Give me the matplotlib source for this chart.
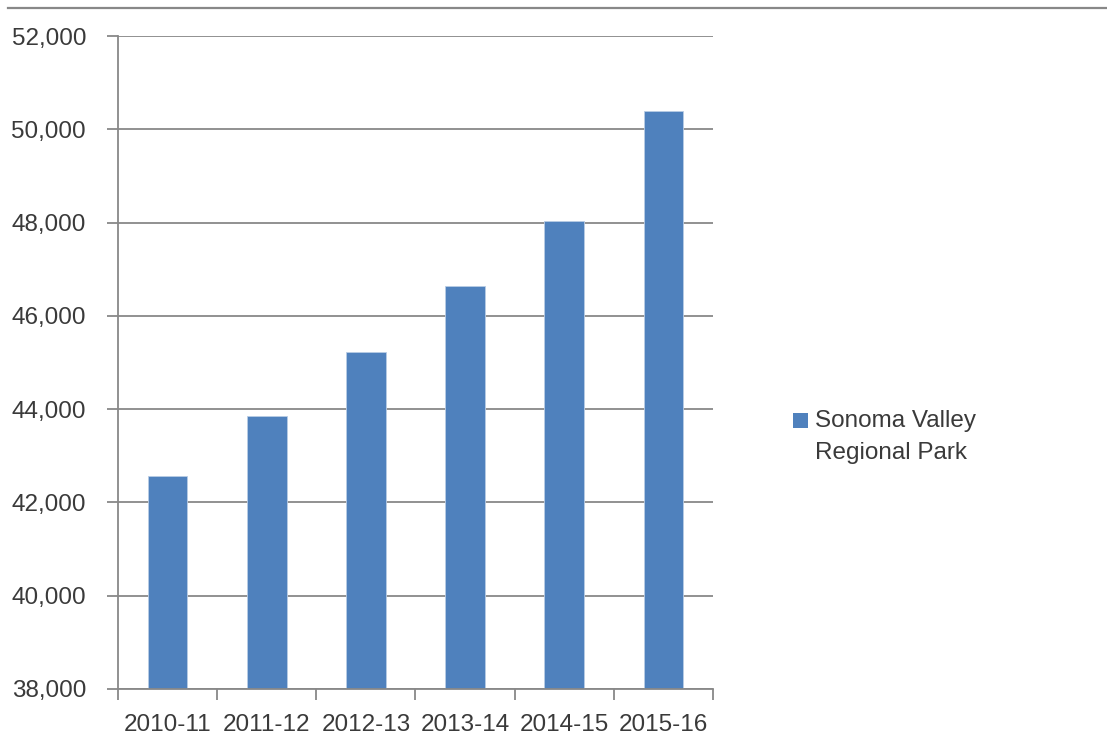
import matplotlib
matplotlib.use("Agg")
import matplotlib.pyplot as plt
from matplotlib.patches import Rectangle
from matplotlib.legend_handler import HandlerBase
from matplotlib.lines import Line2D
from matplotlib.ticker import FuncFormatter, FixedLocator

seasons = ["2010-11", "2011-12", "2012-13", "2013-14", "2014-15", "2015-16"]
visitors = [42570, 43850, 45230, 46630, 48040, 50400]
series_name = "Sonoma Valley\nRegional Park"
y_ticks = [38000, 40000, 42000, 44000, 46000, 48000, 50000, 52000]

BAR = "#4F81BD"
GRID = "#888888"
TEXT = "#3a3a3a"

plt.rcParams["font.family"] = ["Liberation Sans", "DejaVu Sans"]
FS = 17.5
LEG_LINESPACING = 1.6

fig = plt.figure(figsize=(11.07, 7.5), dpi=100)
ax = fig.add_axes([118 / 1107, 1 - 689 / 750, (713 - 118) / 1107, (689 - 36) / 750])

x = list(range(len(seasons)))
bars = ax.bar(x, visitors, width=0.4, color=BAR, edgecolor="#B9CDE5",
              linewidth=0.6, label=series_name, zorder=3)

ax.set_ylim(y_ticks[0], y_ticks[-1])
ax.set_xlim(-0.5, len(seasons) - 0.5)
ax.set_yticks(y_ticks)
ax.yaxis.set_major_formatter(FuncFormatter(lambda v, p: f"{int(v):,}"))
ax.grid(axis="y", color=GRID, linewidth=1.3, zorder=0)

# category labels centred under bars, tick marks on category boundaries
ax.set_xticks(x)
ax.set_xticklabels(seasons)
ax.xaxis.set_minor_locator(FixedLocator([i - 0.5 for i in range(len(seasons) + 1)]))
ax.tick_params(axis="x", which="major", length=0, pad=18, labelsize=FS, labelcolor=TEXT)
ax.tick_params(axis="x", which="minor", length=8, width=1.3, color=GRID, direction="out")
ax.tick_params(axis="y", which="major", length=8, width=1.3, color=GRID, direction="out",
               pad=15, labelsize=FS, labelcolor=TEXT)

for side in ("top", "right"):
    ax.spines[side].set_visible(False)
for side in ("left", "bottom"):
    ax.spines[side].set_color(GRID)
    ax.spines[side].set_linewidth(1.3)
    ax.spines[side].set_zorder(4)


class TopSquare(HandlerBase):
    """Legend key drawn as a square beside the first line of a two-line label."""
    def create_artists(self, legend, orig_handle, xdescent, ydescent,
                       width, height, fontsize, trans):
        s = 0.62 * fontsize
        r = Rectangle((-xdescent, -ydescent + 0.68 * fontsize), s, s,
                      facecolor=BAR, edgecolor="none", transform=trans)
        return [r]


leg = fig.legend(handles=[bars], labels=[series_name], handler_map={type(bars): TopSquare()},
                 loc="upper left", bbox_to_anchor=(793 / 1107, 1 - 410 / 750),
                 frameon=False, fontsize=FS, handlelength=0.62, handleheight=0.62,
                 handletextpad=0.29, labelcolor=TEXT, borderaxespad=0, borderpad=0)
for t in leg.get_texts():
    t.set_linespacing(LEG_LINESPACING)

# thin rule across the top of the chart
fig.add_artist(Line2D([8 / 1107, 1.0], [1 - 8 / 750, 1 - 8 / 750], transform=fig.transFigure,
                      color=GRID, linewidth=1.6))

fig.savefig("out.png", dpi=100)
